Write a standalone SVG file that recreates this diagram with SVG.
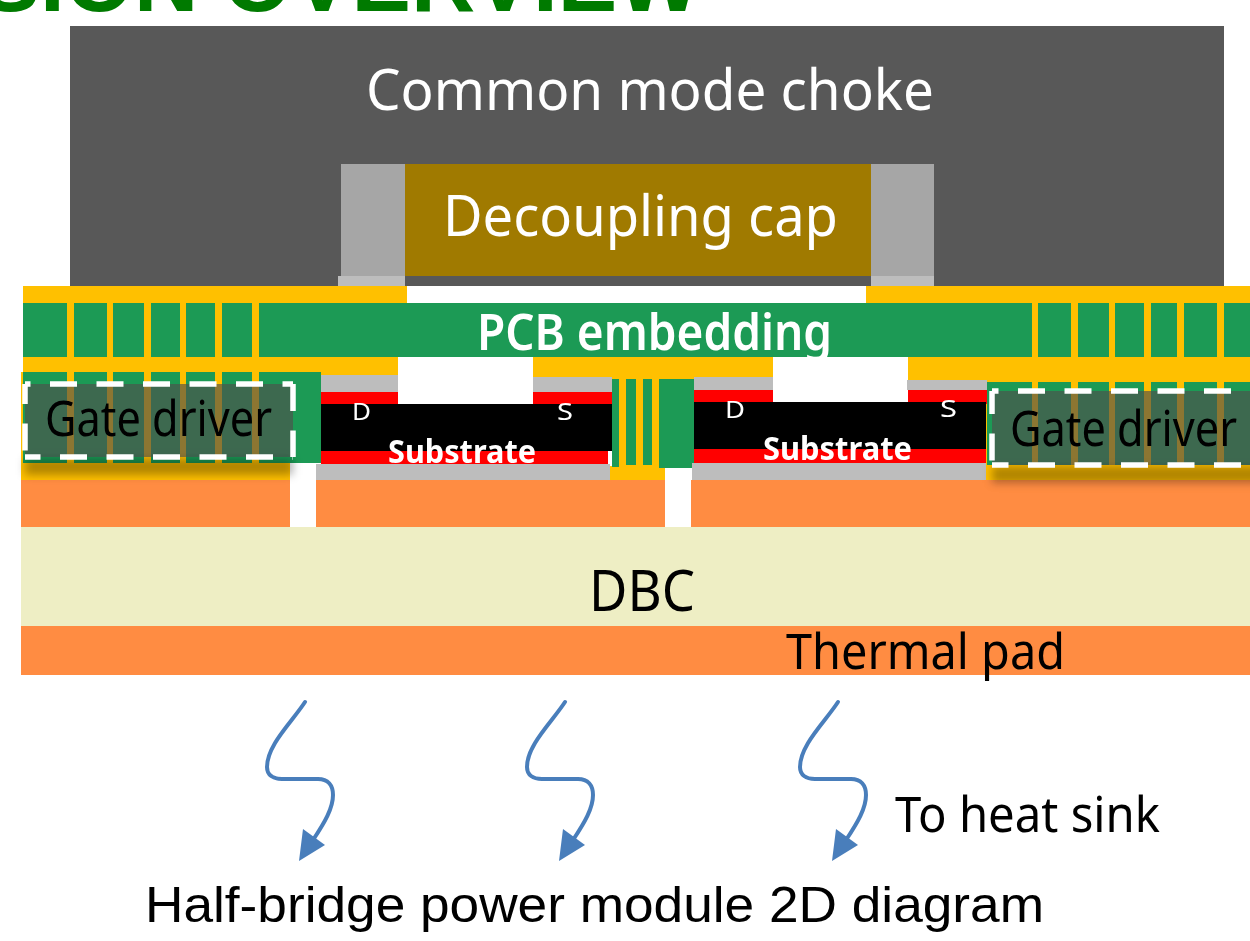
<svg xmlns="http://www.w3.org/2000/svg" width="1250" height="941" viewBox="0 0 1250 941">
<style>
.y{fill:#ffc000}.g{fill:#1b9a54}.o{fill:#ff8c42}.a{fill:#bdbdbd}.r{fill:#ff0000}.k{fill:#000}.w{fill:#fff}
text{font-family:"Noto Sans","Open Sans","Liberation Sans",sans-serif}
.tw{fill:#fff}.tb{fill:#000}
.flow{fill:none;stroke:#4a7ebb;stroke-width:4;stroke-linecap:round}
.head{fill:#4a7ebb}
.drv{fill:#4e4e4e;fill-opacity:.65}
.shade{fill:#000;fill-opacity:.3;filter:url(#sh)}
.dash{fill:none;stroke:#fff;stroke-width:5.5;stroke-dasharray:27 19.5}
</style>
<defs>
<filter id="soft" x="-2%" y="-2%" width="104%" height="104%"><feGaussianBlur stdDeviation="0.7"/></filter>
<filter id="sh" x="-10%" y="-60%" width="120%" height="220%"><feGaussianBlur stdDeviation="4"/></filter>
<path id="arrow" d="M305 702C292 722 267 745 267 767C267 775 273 779 282 779L318 779C328 779 333 785 333 795C333 808 325 822 313 840"/>
<path id="tip" d="M299 861L303 829L325 845Z"/>
</defs>
<rect class="w" width="1250" height="941"/>
<g filter="url(#soft)">
<text x="701" y="11" font-size="89" font-weight="700" text-anchor="end" style="font-family:'Liberation Sans',Arial,sans-serif" fill="#007a00">SION OVERVIEW</text>

<g id="choke">
<rect x="70" y="26" width="1154" height="260" fill="#595959"/>
<text class="tw" x="366" y="110" font-size="56" textLength="568" lengthAdjust="spacingAndGlyphs">Common mode choke</text>
</g>
<g id="decap">
<rect x="341" y="164" width="64" height="112" fill="#a6a6a6"/>
<rect x="871" y="164" width="63" height="112" fill="#a6a6a6"/>
<rect x="338" y="276" width="67" height="10" class="a"/>
<rect x="871" y="276" width="63" height="10" class="a"/>
<rect x="405" y="164" width="466" height="112" fill="#a07a00"/>
<text class="tw" x="443" y="236" font-size="56" textLength="395" lengthAdjust="spacingAndGlyphs">Decoupling cap</text>
</g>

<g id="pcb">
<rect class="y" x="23" y="286" width="384" height="17"/>
<rect class="y" x="866" y="286" width="384" height="17"/>
<rect class="y" x="23" y="303" width="1227" height="54"/>
<g class="g">
<rect x="23" y="303" width="44" height="54"/><rect x="74" y="303" width="33" height="54"/><rect x="113" y="303" width="31" height="54"/><rect x="151" y="303" width="29" height="54"/><rect x="186" y="303" width="29" height="54"/><rect x="222" y="303" width="30" height="54"/>
<rect x="259" y="303" width="773" height="54"/>
<rect x="1038" y="303" width="33" height="54"/><rect x="1078" y="303" width="31" height="54"/><rect x="1115" y="303" width="29" height="54"/><rect x="1151" y="303" width="26" height="54"/><rect x="1184" y="303" width="33" height="54"/><rect x="1224" y="303" width="26" height="54"/>
</g>
<text class="tw" x="477" y="350" font-size="50" font-weight="600" textLength="355" lengthAdjust="spacingAndGlyphs">PCB embedding</text>
<rect class="y" x="23" y="357" width="375" height="18"/>
<rect class="y" x="533" y="357" width="240" height="20"/>
<rect class="y" x="908" y="357" width="342" height="23"/>
</g>

<g id="base">
<rect class="y" x="21" y="372" width="269" height="108"/>
<rect class="y" x="985" y="380" width="265" height="100"/>
<rect class="o" x="21" y="480" width="269" height="47"/>
<rect class="o" x="316" y="480" width="349" height="47"/>
<rect class="o" x="691" y="480" width="559" height="47"/>
</g>

<g id="left-vias" class="g">
<rect x="23" y="372" width="44" height="91"/><rect x="74" y="372" width="33" height="91"/><rect x="113" y="372" width="31" height="91"/><rect x="151" y="372" width="29" height="91"/><rect x="186" y="372" width="29" height="91"/><rect x="222" y="372" width="30" height="91"/><rect x="259" y="372" width="62" height="91"/>
</g>

<g id="die-left">
<rect class="a" x="321" y="375" width="77" height="17"/>
<rect class="a" x="533" y="377" width="79" height="15"/>
<rect class="r" x="321" y="392" width="77" height="12"/>
<rect class="r" x="533" y="392" width="79" height="12"/>
<rect class="k" x="321" y="404" width="291" height="47"/>
<rect class="r" x="321" y="451" width="287" height="13"/>
<rect class="a" x="316" y="464" width="294" height="16"/>
<text class="tw" x="352" y="420" font-size="24" textLength="19" lengthAdjust="spacingAndGlyphs">D</text>
<text class="tw" x="557" y="420" font-size="24" textLength="16" lengthAdjust="spacingAndGlyphs">S</text>
<text class="tw" x="388" y="463" font-size="32" font-weight="700" textLength="148" lengthAdjust="spacingAndGlyphs">Substrate</text>
</g>

<g id="center-vias">
<rect class="y" x="612" y="377" width="82" height="90"/>
<rect class="y" x="610" y="466" width="55" height="14"/>
<g class="g">
<rect x="612" y="379" width="7" height="88"/><rect x="626" y="379" width="10" height="86"/><rect x="643" y="379" width="9" height="86"/><rect x="659" y="379" width="35" height="89"/>
</g>
</g>

<g id="die-right">
<rect class="a" x="694" y="377" width="79" height="13"/>
<rect class="a" x="907" y="380" width="80" height="10"/>
<rect class="r" x="694" y="390" width="79" height="14"/>
<rect class="r" x="908" y="390" width="79" height="14"/>
<rect class="k" x="694" y="402" width="292" height="47"/>
<rect class="r" x="694" y="449" width="292" height="14"/>
<rect class="a" x="692" y="463" width="294" height="17"/>
<text class="tw" x="725" y="418" font-size="24" textLength="20" lengthAdjust="spacingAndGlyphs">D</text>
<text class="tw" x="940" y="417" font-size="24" textLength="17" lengthAdjust="spacingAndGlyphs">S</text>
<text class="tw" x="763" y="460" font-size="32" font-weight="700" textLength="149" lengthAdjust="spacingAndGlyphs">Substrate</text>
</g>

<g id="right-vias" class="g">
<rect x="987" y="382" width="45" height="83"/><rect x="1038" y="382" width="33" height="83"/><rect x="1078" y="382" width="31" height="83"/><rect x="1115" y="382" width="29" height="83"/><rect x="1151" y="382" width="26" height="83"/><rect x="1184" y="382" width="33" height="83"/><rect x="1224" y="382" width="26" height="83"/>
</g>

<g id="gate-driver-left">
<rect class="shade" x="25" y="458" width="268" height="17"/>
<rect class="drv" x="25" y="384" width="268" height="73"/>
<path class="dash" stroke-dashoffset="21.5" d="M25 384H293"/>
<path class="dash" d="M293 384V457"/>
<path class="dash" stroke-dashoffset="26.5" d="M293 457H25"/>
<path class="dash" stroke-dashoffset="7" d="M25 384V457"/>
<text class="tb" x="45" y="436" font-size="50" textLength="227" lengthAdjust="spacingAndGlyphs">Gate driver</text>
</g>
<g id="gate-driver-right">
<rect class="shade" x="992" y="466" width="290" height="17"/>
<rect class="drv" x="992" y="391" width="290" height="74"/>
<path class="dash" stroke-dashoffset="20.5" d="M992 391H1250"/>
<path class="dash" stroke-dashoffset="10.5" d="M992 465H1250"/>
<path class="dash" stroke-dashoffset="4" d="M992 391V465"/>
<text class="tb" x="1010" y="446" font-size="50" textLength="227" lengthAdjust="spacingAndGlyphs">Gate driver</text>
</g>

<g id="dbc">
<rect x="21" y="527" width="1229" height="99" fill="#eeeec4"/>
<text class="tb" x="589" y="611" font-size="56" textLength="106" lengthAdjust="spacingAndGlyphs">DBC</text>
</g>
<g id="thermal-pad">
<rect class="o" x="21" y="626" width="1229" height="49"/>
<text class="tb" x="786" y="669" font-size="50" textLength="279" lengthAdjust="spacingAndGlyphs">Thermal pad</text>
</g>

<g id="connectors">
<use href="#arrow" class="flow"/><use href="#tip" class="head"/>
<use href="#arrow" class="flow" x="260"/><use href="#tip" class="head" x="260"/>
<use href="#arrow" class="flow" x="533"/><use href="#tip" class="head" x="533"/>
</g>
<text class="tb" x="895" y="832" font-size="50" textLength="265" lengthAdjust="spacingAndGlyphs">To heat sink</text>
</g>
<text x="145" y="922" font-size="50" fill="#000" textLength="899" lengthAdjust="spacingAndGlyphs" style="font-family:'Liberation Sans',Arial,sans-serif">Half-bridge power module 2D diagram</text>
</svg>
